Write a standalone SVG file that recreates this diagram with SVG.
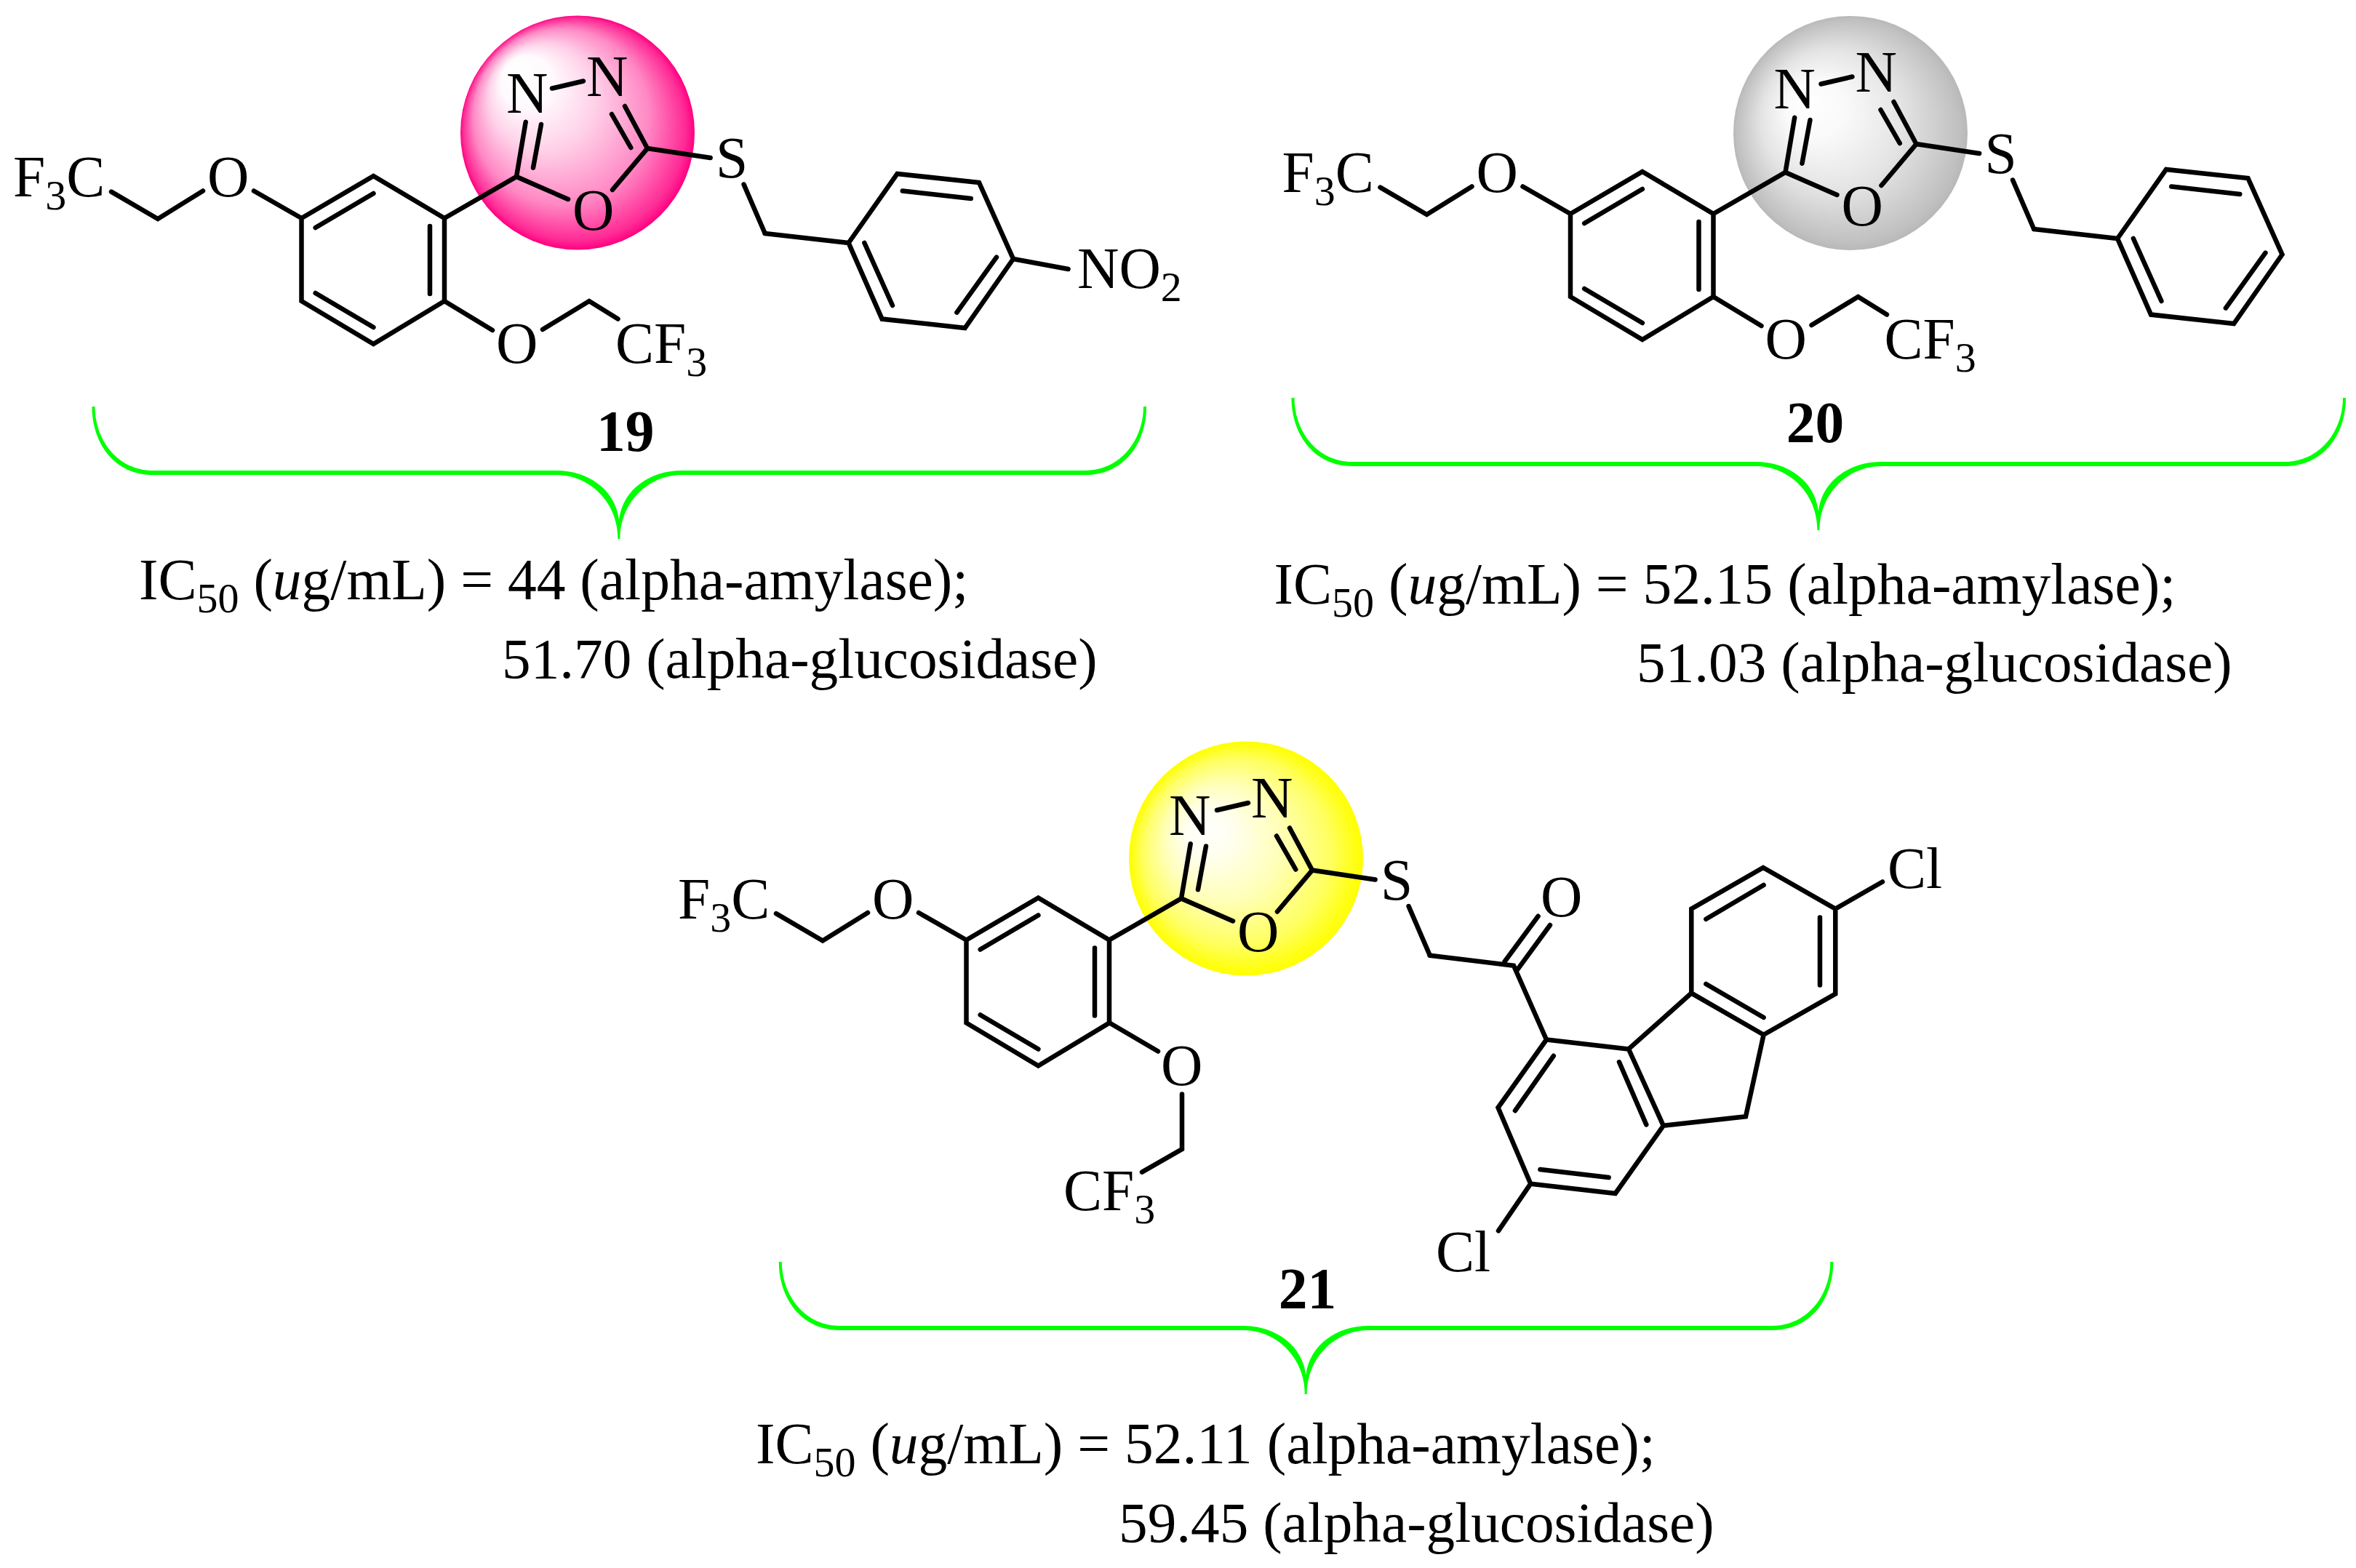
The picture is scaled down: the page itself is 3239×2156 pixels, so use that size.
<svg xmlns="http://www.w3.org/2000/svg" width="3239" height="2156" viewBox="0 0 3239 2156">
<style>
text{font-family:"Liberation Serif","Times New Roman",serif;font-size:79.5px;fill:#000}
text.l2{font-size:79.25px}
.sub{font-size:58px}
.num{font-weight:700}
.b{fill:none;stroke:#000;stroke-width:6.5;stroke-linecap:round;stroke-linejoin:miter}
.brace{fill:#00ff00;stroke:none}
</style>
<defs>
<radialGradient id="gPink" cx=".5" cy=".5" r=".5" fx=".22" fy=".22"><stop offset="0" stop-color="#fff"/><stop offset=".22" stop-color="#fffafd"/><stop offset=".46" stop-color="#ffd0e8"/><stop offset=".75" stop-color="#ff88c4"/><stop offset=".95" stop-color="#ff2a95"/><stop offset="1" stop-color="#ff0080"/></radialGradient>
<radialGradient id="gGray" cx=".5" cy=".5" r=".5" fx=".3" fy=".36"><stop offset="0" stop-color="#fff"/><stop offset=".25" stop-color="#fafafa"/><stop offset=".6" stop-color="#e4e4e4"/><stop offset=".95" stop-color="#c0c0c0"/><stop offset="1" stop-color="#b8b8b8"/></radialGradient>
<radialGradient id="gYellow" cx=".5" cy=".5" r=".5" fx=".3" fy=".36"><stop offset="0" stop-color="#fff"/><stop offset=".2" stop-color="#fffff0"/><stop offset=".5" stop-color="#ffffb8"/><stop offset=".8" stop-color="#ffff60"/><stop offset=".96" stop-color="#ffff10"/><stop offset="1" stop-color="#ffff00"/></radialGradient>
<path id="core" class="b" d="M513.4 242L611 300V414L513.4 473L414.5 414V300ZM433.7 313L513.4 266M591 311V404M433.7 403L513.4 450M349 262.5L414.5 300M153 263.6L217 301L279 262.5M611 300L710 243L781 274M842 261L890 204L859 146M841 157L867.3 203M710 243L722.7 167.7M744 171L733 230.7M759 121.5L802 111.5M890 204L976.6 217M1022.6 253.6L1051.7 321"/>
<path id="benzyl" class="b" d="M1051.7 321L1166.6 334M1166.6 334L1233.5 239L1346 251L1393 356L1326.6 451L1212.6 438.6ZM1240.8 262.5L1334.8 273M1188.4 334L1227 420M1370 353.6L1315.4 429.6"/>
<path id="brace" class="brace" d="M126.5 559C126.5 610 158 653 210 653H765C810 653 849.5 690 849.5 741H852.5C852.5 690 892 653 937 653H1492C1545 653 1576 610 1576 559H1572C1572 605 1540 647 1492 647H937C895 647 856 672 851 715C846 672 807 647 765 647H210C162 647 130.5 605 130.5 559Z"/>
</defs>

<g id="compound-19">
<circle cx="794" cy="182.5" r="161" fill="url(#gPink)"/>
<use href="#core"/>
<use href="#benzyl"/>
<path class="b" d="M1393 356L1468.6 370M611 414L677 454M746 453L810 414L849.5 438.6"/>
<text x="18" y="270">F<tspan class="sub" dy="18">3</tspan><tspan dy="-18">C</tspan></text>
<text x="285" y="270">O</text>
<text x="696" y="155">N</text>
<text x="806" y="131.5">N</text>
<text x="787" y="315.5">O</text>
<text x="984" y="244">S</text>
<text x="682" y="499">O</text>
<text x="846" y="499">CF<tspan class="sub" dy="18">3</tspan></text>
<text x="1481" y="396">NO<tspan class="sub" dy="18">2</tspan></text>
<text class="num" x="820" y="620">19</text>
<text x="191" y="824">IC<tspan class="sub" dy="18">50</tspan><tspan dy="-18"> (</tspan><tspan font-style="italic">u</tspan>g/mL) = 44 (alpha-amylase);</text>
<text class="l2" x="690" y="932">51.70 (alpha-glucosidase)</text>
</g>

<g id="compound-20">
<circle cx="2544" cy="183" r="161" fill="url(#gGray)"/>
<g transform="translate(1744.5 -6)">
<use href="#core"/>
<use href="#benzyl"/>
<path class="b" d="M611 414L677 454M746 453L810 414L849.5 438.6"/>
<text x="18" y="270">F<tspan class="sub" dy="18">3</tspan><tspan dy="-18">C</tspan></text>
<text x="285" y="270">O</text>
<text x="694" y="155">N</text>
<text x="806" y="131.5">N</text>
<text x="787" y="315.5">O</text>
<text x="984" y="244">S</text>
<text x="682" y="499">O</text>
<text x="846" y="499">CF<tspan class="sub" dy="18">3</tspan></text>
</g>
<text class="num" x="2455.8" y="608">20</text>
<text x="1751.6" y="830">IC<tspan class="sub" dy="18">50</tspan><tspan dy="-18"> (</tspan><tspan font-style="italic">u</tspan>g/mL) = 52.15 (alpha-amylase);</text>
<text class="l2" x="2250" y="937">51.03 (alpha-glucosidase)</text>
</g>

<g id="compound-21">
<circle cx="1713" cy="1180.5" r="161" fill="url(#gYellow)"/>
<g transform="translate(914 992.5)">
<use href="#core"/>
<text x="18" y="270">F<tspan class="sub" dy="18">3</tspan><tspan dy="-18">C</tspan></text>
<text x="285" y="270">O</text>
<text x="693" y="155">N</text>
<text x="806" y="131.5">N</text>
<text x="787" y="315.5">O</text>
<text x="984" y="244">S</text>
</g>
<path class="b" d="M1526.3 1407L1592 1445.5M1625 1504.5V1580L1570 1611.6M1965.7 1313.8L2081 1327.7L2126 1429.5L2239 1442.4L2286.8 1547.8L2220.8 1641L2104.3 1627.7L2059.5 1523L2126 1429.5M2068.7 1322L2114.6 1259.8M2085.3 1334.4L2131 1272M2135.8 1451.8L2083 1527.2M2226 1460.3L2263.3 1546.4M2117.5 1608L2211.6 1619M2239 1442.4L2325.3 1365.6L2424.6 1422.8L2400 1535.3L2286.8 1547.8M2325.3 1365.6V1249.6L2424 1192.9L2523.3 1249.6V1366.5L2424.6 1422.8M2345.4 1263.8L2424.6 1217M2502 1261.6V1354.5M2345.4 1353L2424.6 1399M2523.3 1249.6L2588 1212.5M2104.3 1627.7L2060 1692.4"/>
<text x="1596" y="1491.5">O</text>
<text x="1462" y="1664">CF<tspan class="sub" dy="18">3</tspan></text>
<text x="2118" y="1259.5">O</text>
<text x="2595" y="1220.5">Cl</text>
<text x="1974" y="1748">Cl</text>
<text class="num" x="1757.8" y="1799">21</text>
<text x="1039" y="2011.7">IC<tspan class="sub" dy="18">50</tspan><tspan dy="-18"> (</tspan><tspan font-style="italic">u</tspan>g/mL) = 52.11 (alpha-amylase);</text>
<text class="l2" x="1538" y="2120">59.45 (alpha-glucosidase)</text>
</g>

<g id="connectors">
<use href="#brace"/>
<use href="#brace" transform="translate(1649 -12)"/>
<use href="#brace" transform="translate(944.3 1176)"/>
</g>
</svg>
